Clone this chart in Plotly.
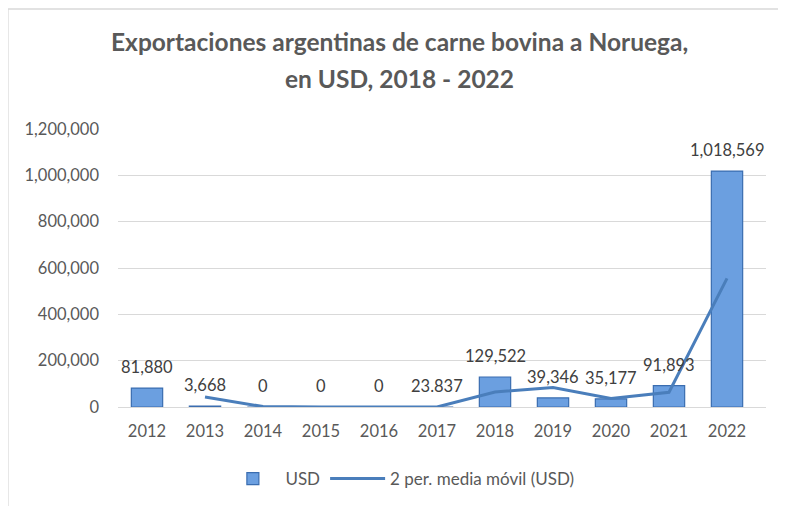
import plotly.graph_objects as go

years = ["2012", "2013", "2014", "2015", "2016", "2017", "2018", "2019", "2020", "2021", "2022"]
usd = [81880, 3668, 0, 0, 0, 23.837, 129522, 39346, 35177, 91893, 1018569]
usd_labels = ["81,880", "3,668", "0", "0", "0", "23.837", "129,522", "39,346", "35,177", "91,893", "1,018,569"]
ma_years = ["2013", "2014", "2015", "2016", "2017", "2018", "2019", "2020", "2021", "2022"]
ma_values = [42774, 1834, 0, 0, 12, 64773, 84434, 37262, 63535, 555231]
y_ticks = [0, 200000, 400000, 600000, 800000, 1000000, 1200000]
y_tick_labels = ["0", "200,000", "400,000", "600,000", "800,000", "1,000,000", "1,200,000"]
title_lines = ["Exportaciones argentinas de carne bovina a Noruega,", "en USD, 2018 - 2022"]

FONT = "Lato"
GREY = "#595959"
FS = 16.5

fig = go.Figure()
fig.add_trace(go.Bar(
    x=years, y=usd, name="USD",
    marker=dict(color="#6b9fe0", line=dict(color="#3a6db0", width=1.2)),
    width=0.54,
))
fig.add_trace(go.Scatter(
    x=ma_years, y=ma_values, name="2 per. media móvil (USD)",
    mode="lines", line=dict(color="#4a7ebb", width=3),
))

for i, (v, lab) in enumerate(zip(usd, usd_labels)):
    fig.add_annotation(x=i, y=v, xref="x", yref="y", text=lab, showarrow=False, yshift=21,
                       font=dict(family=FONT, size=FS, color="#404040"))

for yy, line in zip([1.316, 1.183], title_lines):
    fig.add_annotation(x=0.435, y=yy, xref="paper", yref="paper", text="<b>" + line + "</b>",
                       showarrow=False, xanchor="center", yanchor="middle",
                       font=dict(family=FONT, size=24.5, color=GREY))

fig.add_shape(type="rect", xref="paper", yref="paper",
              x0=-0.1698, x1=1.2, y0=-0.5, y1=1.4317,
              line=dict(color="#d9d9d9", width=1.3), layer="below")

fig.update_layout(
    width=778, height=498,
    margin=dict(l=110, r=20, t=121, b=99),
    paper_bgcolor="white", plot_bgcolor="white",
    font=dict(family=FONT, size=FS, color=GREY),
    bargap=0.46,
    xaxis=dict(type="category", showgrid=False, showline=False, ticks="",
               ticklabelstandoff=12, automargin=False,
               tickfont=dict(size=FS, color=GREY)),
    yaxis=dict(range=[0, 1200000], tickvals=y_ticks, ticktext=y_tick_labels,
               showgrid=True, gridcolor="#d9d9d9", gridwidth=1,
               zeroline=True, zerolinecolor="#d9d9d9", zerolinewidth=1,
               showline=False, ticks="", ticklabelstandoff=18, automargin=False,
               tickfont=dict(size=FS, color=GREY)),
    legend=dict(orientation="h", x=0.435, xanchor="center", y=0.0542, yref="container",
                yanchor="middle", font=dict(size=17, color=GREY), itemwidth=55),
    showlegend=True,
)

fig.write_html("out.html")
